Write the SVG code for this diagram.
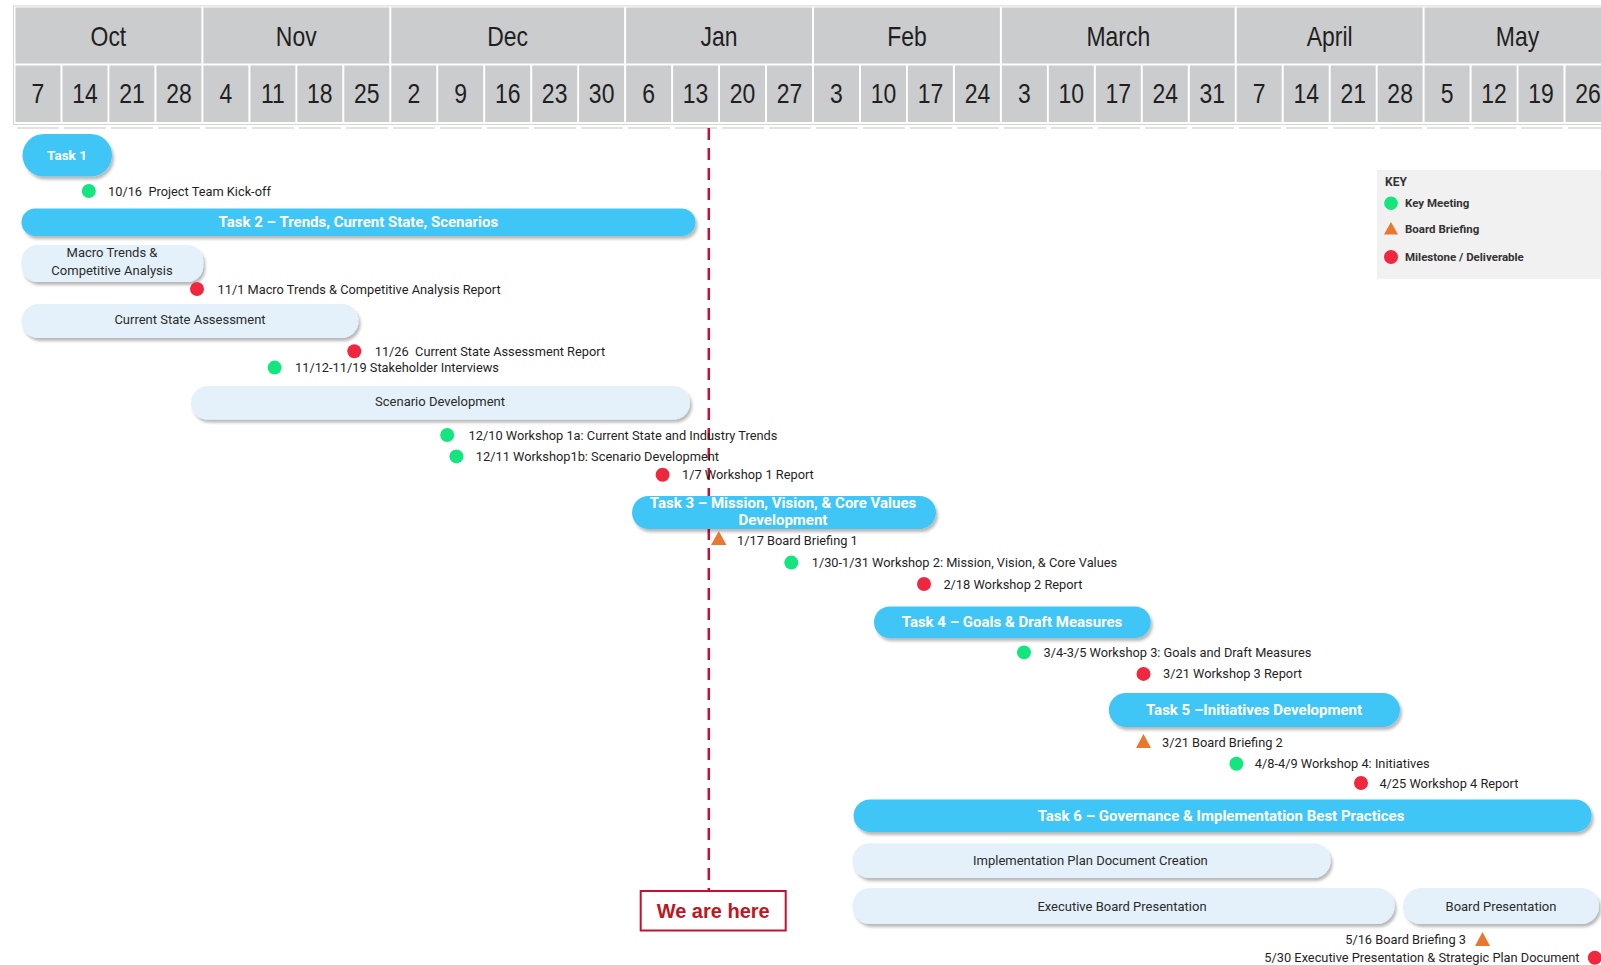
<svg xmlns="http://www.w3.org/2000/svg" width="1601" height="965" viewBox="0 0 1601 965">
<defs>
<filter id="sh" x="-5%" y="-30%" width="110%" height="170%">
<feDropShadow dx="2" dy="3" stdDeviation="1.6" flood-color="#000" flood-opacity="0.28"/>
</filter>
<style>
.hdr{font-family:'Liberation Sans',Arial,sans-serif;font-size:28px;fill:#1f1f1f;text-anchor:middle}
.cell{fill:#CBCCCE}
.seg{stroke:#E2E2E2;stroke-width:2}
.task{fill:#3FC6F6;filter:url(#sh)}
.sub{fill:#E4F1FA;filter:url(#sh)}
.tt{font-family:Roboto,'Liberation Sans',sans-serif;font-weight:700;font-size:15px;fill:#fff;text-anchor:middle}
.st{font-family:Roboto,'Liberation Sans',sans-serif;font-size:13px;fill:#2b2b2b;text-anchor:middle}
.lb{font-family:Roboto,'Liberation Sans',sans-serif;font-size:12.8px;fill:#1f1f1f}
.key{font-family:Roboto,'Liberation Sans',sans-serif;font-size:11.5px;font-weight:700;fill:#333}
.g{fill:#13E57F}
.r{fill:#EF2840}
.o{fill:#E8772F}
</style>
</defs>
<rect width="1601" height="965" fill="#fff"/>

<g id="header">
<rect x="13.5" y="6" width="1600" height="118.5" fill="#fff" stroke="#D6D6D6" stroke-width="1"/>
<rect class="cell" x="15.5" y="7.5" width="185.9" height="56"/>
<rect class="cell" x="203.4" y="7.5" width="185.9" height="56"/>
<rect class="cell" x="391.3" y="7.5" width="232.8" height="56"/>
<rect class="cell" x="626.1" y="7.5" width="185.9" height="56"/>
<rect class="cell" x="814" y="7.5" width="185.9" height="56"/>
<rect class="cell" x="1001.9" y="7.5" width="232.8" height="56"/>
<rect class="cell" x="1236.7" y="7.5" width="185.9" height="56"/>
<rect class="cell" x="1424.6" y="7.5" width="185.9" height="56"/>
<g id="weeks">
<rect class="cell" x="15.5" y="65.5" width="45" height="56.5"/>
<rect class="cell" x="62.5" y="65.5" width="45" height="56.5"/>
<rect class="cell" x="109.4" y="65.5" width="45" height="56.5"/>
<rect class="cell" x="156.4" y="65.5" width="45" height="56.5"/>
<rect class="cell" x="203.4" y="65.5" width="45" height="56.5"/>
<rect class="cell" x="250.4" y="65.5" width="45" height="56.5"/>
<rect class="cell" x="297.3" y="65.5" width="45" height="56.5"/>
<rect class="cell" x="344.3" y="65.5" width="45" height="56.5"/>
<rect class="cell" x="391.3" y="65.5" width="45" height="56.5"/>
<rect class="cell" x="438.2" y="65.5" width="45" height="56.5"/>
<rect class="cell" x="485.2" y="65.5" width="45" height="56.5"/>
<rect class="cell" x="532.2" y="65.5" width="45" height="56.5"/>
<rect class="cell" x="579.1" y="65.5" width="45" height="56.5"/>
<rect class="cell" x="626.1" y="65.5" width="45" height="56.5"/>
<rect class="cell" x="673.1" y="65.5" width="45" height="56.5"/>
<rect class="cell" x="720" y="65.5" width="45" height="56.5"/>
<rect class="cell" x="767" y="65.5" width="45" height="56.5"/>
<rect class="cell" x="814" y="65.5" width="45" height="56.5"/>
<rect class="cell" x="861" y="65.5" width="45" height="56.5"/>
<rect class="cell" x="907.9" y="65.5" width="45" height="56.5"/>
<rect class="cell" x="954.9" y="65.5" width="45" height="56.5"/>
<rect class="cell" x="1001.9" y="65.5" width="45" height="56.5"/>
<rect class="cell" x="1048.8" y="65.5" width="45" height="56.5"/>
<rect class="cell" x="1095.8" y="65.5" width="45" height="56.5"/>
<rect class="cell" x="1142.8" y="65.5" width="45" height="56.5"/>
<rect class="cell" x="1189.8" y="65.5" width="45" height="56.5"/>
<rect class="cell" x="1236.7" y="65.5" width="45" height="56.5"/>
<rect class="cell" x="1283.7" y="65.5" width="45" height="56.5"/>
<rect class="cell" x="1330.7" y="65.5" width="45" height="56.5"/>
<rect class="cell" x="1377.6" y="65.5" width="45" height="56.5"/>
<rect class="cell" x="1424.6" y="65.5" width="45" height="56.5"/>
<rect class="cell" x="1471.6" y="65.5" width="45" height="56.5"/>
<rect class="cell" x="1518.5" y="65.5" width="45" height="56.5"/>
<rect class="cell" x="1565.5" y="65.5" width="45" height="56.5"/>
</g>
<g id="header-labels" transform="scale(0.82,1)">
<text class="hdr" x="132.2" y="46">Oct</text>
<text class="hdr" x="361.3" y="46">Nov</text>
<text class="hdr" x="619.1" y="46">Dec</text>
<text class="hdr" x="876.8" y="46">Jan</text>
<text class="hdr" x="1106" y="46">Feb</text>
<text class="hdr" x="1363.8" y="46">March</text>
<text class="hdr" x="1621.6" y="46">April</text>
<text class="hdr" x="1850.6" y="46">May</text>
<text class="hdr" x="46.3" y="103">7</text>
<text class="hdr" x="103.6" y="103">14</text>
<text class="hdr" x="160.9" y="103">21</text>
<text class="hdr" x="218.2" y="103">28</text>
<text class="hdr" x="275.5" y="103">4</text>
<text class="hdr" x="332.7" y="103">11</text>
<text class="hdr" x="390" y="103">18</text>
<text class="hdr" x="447.3" y="103">25</text>
<text class="hdr" x="504.6" y="103">2</text>
<text class="hdr" x="561.9" y="103">9</text>
<text class="hdr" x="619.2" y="103">16</text>
<text class="hdr" x="676.4" y="103">23</text>
<text class="hdr" x="733.7" y="103">30</text>
<text class="hdr" x="791" y="103">6</text>
<text class="hdr" x="848.3" y="103">13</text>
<text class="hdr" x="905.6" y="103">20</text>
<text class="hdr" x="962.8" y="103">27</text>
<text class="hdr" x="1020.1" y="103">3</text>
<text class="hdr" x="1077.4" y="103">10</text>
<text class="hdr" x="1134.7" y="103">17</text>
<text class="hdr" x="1192" y="103">24</text>
<text class="hdr" x="1249.2" y="103">3</text>
<text class="hdr" x="1306.5" y="103">10</text>
<text class="hdr" x="1363.8" y="103">17</text>
<text class="hdr" x="1421.1" y="103">24</text>
<text class="hdr" x="1478.4" y="103">31</text>
<text class="hdr" x="1535.6" y="103">7</text>
<text class="hdr" x="1592.9" y="103">14</text>
<text class="hdr" x="1650.2" y="103">21</text>
<text class="hdr" x="1707.5" y="103">28</text>
<text class="hdr" x="1764.8" y="103">5</text>
<text class="hdr" x="1822" y="103">12</text>
<text class="hdr" x="1879.3" y="103">19</text>
<text class="hdr" x="1936.6" y="103">26</text>
</g>
<path class="seg" d="M17 128H59M64 128H106M111 128H153M158 128H200M205 128H247M252 128H294M299 128H341M346 128H388M393 128H435M440 128H482M487 128H529M534 128H576M581 128H623M628 128H670M675 128H717M722 128H764M769 128H811M816 128H858M863 128H905M910 128H952M957 128H999M1004 128H1046M1051 128H1093M1098 128H1140M1145 128H1187M1192 128H1234M1239 128H1281M1286 128H1328M1333 128H1375M1380 128H1422M1427 128H1469M1474 128H1516M1521 128H1563M1568 128H1601"/>
</g>

<g id="connectors">
<line x1="708.8" y1="128" x2="708.8" y2="891" stroke="#C8102E" stroke-width="2.5" stroke-dasharray="12 8"/>
</g>

<g id="task1">
<rect class="task" x="22.5" y="134" width="89.5" height="42.5" rx="21.25"/>
<text class="tt" x="67" y="160" style="font-size:13.5px">Task 1</text>
</g>
<g id="m-kickoff"><circle class="g" cx="88.8" cy="191" r="7"/><text class="lb" x="108" y="195.5" xml:space="preserve">10/16  Project Team Kick-off</text></g>

<g id="task2">
<rect class="task" x="21.5" y="208.5" width="674" height="27.5" rx="13.75"/>
<text class="tt" x="358.4" y="227">Task 2 – Trends, Current State, Scenarios</text>
</g>
<g id="sub-macro">
<rect class="sub" x="21.5" y="245" width="181.7" height="37" rx="16"/>
<text class="st" x="112" y="256.7">Macro Trends &amp;</text>
<text class="st" x="112" y="275">Competitive Analysis</text>
</g>
<g id="m-macro"><circle class="r" cx="197" cy="289" r="7"/><text class="lb" x="217.5" y="293.5">11/1 Macro Trends &amp; Competitive Analysis Report</text></g>
<g id="sub-current">
<rect class="sub" x="21.5" y="304" width="337" height="34" rx="17"/>
<text class="st" x="190" y="324.3">Current State Assessment</text>
</g>
<g id="m-current"><circle class="r" cx="354.3" cy="351.2" r="7"/><text class="lb" x="374.7" y="355.7" xml:space="preserve">11/26  Current State Assessment Report</text></g>
<g id="m-interviews"><circle class="g" cx="274.6" cy="367.6" r="7"/><text class="lb" x="295" y="372">11/12-11/19 Stakeholder Interviews</text></g>
<g id="sub-scenario">
<rect class="sub" x="191" y="386" width="499" height="33.6" rx="16.8"/>
<text class="st" x="440" y="405.5">Scenario Development</text>
</g>
<g id="m-ws1a"><circle class="g" cx="447.2" cy="435" r="7"/><text class="lb" x="468.6" y="439.5">12/10 Workshop 1a: Current State and Industry Trends</text></g>
<g id="m-ws1b"><circle class="g" cx="456.4" cy="456.4" r="7"/><text class="lb" x="475.8" y="461">12/11 Workshop1b: Scenario Development</text></g>
<g id="m-ws1r"><circle class="r" cx="662.6" cy="474.8" r="7"/><text class="lb" x="682" y="479.3">1/7 Workshop 1 Report</text></g>

<g id="task3">
<rect class="task" x="632" y="496" width="304" height="33" rx="16.5"/>
<text class="tt" x="783" y="507.5">Task 3 – Mission, Vision, &amp; Core Values</text>
<text class="tt" x="783" y="524.5">Development</text>
</g>
<g id="m-bb1"><polygon class="o" points="711,545 726.5,545 718.8,531"/><text class="lb" x="737" y="544.5">1/17 Board Briefing 1</text></g>
<g id="m-ws2"><circle class="g" cx="791.3" cy="562.6" r="7"/><text class="lb" x="811.7" y="567">1/30-1/31 Workshop 2: Mission, Vision, &amp; Core Values</text></g>
<g id="m-ws2r"><circle class="r" cx="924" cy="584" r="7"/><text class="lb" x="943.4" y="588.5">2/18 Workshop 2 Report</text></g>

<g id="task4">
<rect class="task" x="874" y="606.5" width="276.7" height="31.5" rx="15.75"/>
<text class="tt" x="1012" y="627">Task 4 – Goals &amp; Draft Measures</text>
</g>
<g id="m-ws3"><circle class="g" cx="1024" cy="652.4" r="7"/><text class="lb" x="1043.5" y="657">3/4-3/5 Workshop 3: Goals and Draft Measures</text></g>
<g id="m-ws3r"><circle class="r" cx="1143.5" cy="673.9" r="7"/><text class="lb" x="1163" y="678.4">3/21 Workshop 3 Report</text></g>

<g id="task5">
<rect class="task" x="1108.8" y="693" width="291.2" height="34" rx="17"/>
<text class="tt" x="1254" y="715">Task 5 –Initiatives Development</text>
</g>
<g id="m-bb2"><polygon class="o" points="1136,748 1151,748 1143.5,734"/><text class="lb" x="1162" y="747">3/21 Board Briefing 2</text></g>
<g id="m-ws4"><circle class="g" cx="1236.4" cy="763.7" r="7"/><text class="lb" x="1254.8" y="768">4/8-4/9 Workshop 4: Initiatives</text></g>
<g id="m-ws4r"><circle class="r" cx="1361" cy="783" r="7"/><text class="lb" x="1379.4" y="787.5">4/25 Workshop 4 Report</text></g>

<g id="task6">
<rect class="task" x="853.6" y="799.4" width="738" height="32.6" rx="16.3"/>
<text class="tt" x="1221" y="820.5">Task 6 – Governance &amp; Implementation Best Practices</text>
</g>
<g id="sub-impl">
<rect class="sub" x="852.5" y="843.3" width="478" height="34.7" rx="17"/>
<text class="st" x="1090.4" y="865">Implementation Plan Document Creation</text>
</g>
<g id="sub-exec">
<rect class="sub" x="852.5" y="888" width="542" height="36" rx="18"/>
<text class="st" x="1122" y="910.5">Executive Board Presentation</text>
</g>
<g id="sub-board">
<rect class="sub" x="1403" y="888" width="196" height="36" rx="18"/>
<text class="st" x="1501" y="910.5">Board Presentation</text>
</g>
<g id="m-bb3"><text class="lb" x="1466" y="943.5" text-anchor="end">5/16 Board Briefing 3</text><polygon class="o" points="1475,946 1490,946 1482.5,932"/></g>
<g id="m-final"><text class="lb" x="1579.5" y="962" text-anchor="end">5/30 Executive Presentation &amp; Strategic Plan Document</text><circle class="r" cx="1594.8" cy="957.7" r="7"/></g>

<g id="we-are-here">
<rect x="640.7" y="891" width="145" height="39.5" fill="#fff" stroke="#C8102E" stroke-width="2"/>
<text x="713.2" y="918" font-family="'Liberation Sans',Arial,sans-serif" font-size="20" font-weight="700" fill="#C0161E" text-anchor="middle">We are here</text>
</g>

<g id="legend">
<rect x="1377" y="170" width="230" height="109" fill="#F1F1F1"/>
<text class="key" x="1385" y="185.5" style="font-size:12px">KEY</text>
<circle class="g" cx="1391" cy="203.3" r="6.8"/>
<text class="key" x="1405" y="207">Key Meeting</text>
<polygon class="o" points="1384,234.5 1398,234.5 1391,222"/>
<text class="key" x="1405" y="233">Board Briefing</text>
<circle class="r" cx="1391" cy="257" r="7"/>
<text class="key" x="1405" y="260.5">Milestone / Deliverable</text>
</g>
</svg>
